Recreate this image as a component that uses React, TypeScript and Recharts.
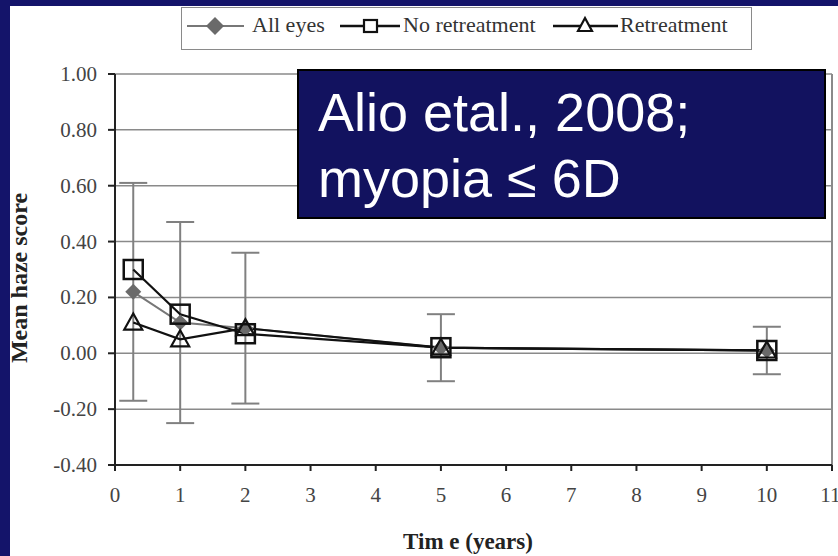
import { CartesianGrid, ErrorBar, Line, LineChart, ReferenceLine, XAxis, YAxis } from 'recharts'

// follow-up time points, years after surgery
const years = [0.28, 1, 2, 5, 10]

// mean haze score per group
const allEyes = [0.22, 0.11, 0.09, 0.02, 0.01]
const allEyesSd = [0.39, 0.36, 0.27, 0.12, 0.085]
const noRetreatment = [0.3, 0.14, 0.07, 0.02, 0.01]
const retreatment = [0.11, 0.05, 0.09, 0.02, 0.01]

const xTicks = [0, 1, 2, 3, 4, 5, 6, 7, 8, 9, 10, 11]
const yTicks = [-0.4, -0.2, 0, 0.2, 0.4, 0.6, 0.8, 1.0]

const legendItems = ['All eyes', 'No retreatment', 'Retreatment']

const NAVY = '#14146a'
const SERIF = '"Liberation Serif", "Times New Roman", serif'

const rows = years.map((t, i) => ({
  t,
  all: allEyes[i],
  sd: allEyesSd[i],
  none: noRetreatment[i],
  re: retreatment[i]
}))

type DotProps = { cx?: number; cy?: number; index?: number }

type TickProps = {
  x?: number
  y?: number
  payload?: { value: number }
  textAnchor?: string
}

function DiamondDot({ cx = 0, cy = 0 }: DotProps) {
  const r = 8
  return (
    <path
      d={`M${cx},${cy - r}L${cx + r},${cy}L${cx},${cy + r}L${cx - r},${cy}Z`}
      fill="#6a6a6a"
    />
  )
}

function SquareDot({ cx = 0, cy = 0 }: DotProps) {
  return (
    <rect
      x={cx - 9.5}
      y={cy - 9.5}
      width={19}
      height={19}
      fill="none"
      stroke="#111"
      strokeWidth={2.5}
    />
  )
}

function TriangleDot({ cx = 0, cy = 0 }: DotProps) {
  return (
    <path
      d={`M${cx},${cy - 9}L${cx + 9},${cy + 7}L${cx - 9},${cy + 7}Z`}
      fill="none"
      stroke="#111"
      strokeWidth={2.2}
    />
  )
}

function XTick({ x = 0, y = 0, payload }: TickProps) {
  return (
    <text
      x={x}
      y={y}
      dy={15}
      textAnchor="middle"
      fontFamily={SERIF}
      fontSize={21}
      fill="#444"
    >
      {payload?.value}
    </text>
  )
}

function YTick({ x = 0, y = 0, payload }: TickProps) {
  return (
    <text
      x={x}
      y={y}
      dy={7}
      textAnchor="end"
      fontFamily={SERIF}
      fontSize={21}
      fill="#444"
    >
      {payload ? payload.value.toFixed(2) : ''}
    </text>
  )
}

function LegendBox() {
  const text = {
    position: 'absolute' as const,
    top: 4,
    fontFamily: SERIF,
    fontSize: 22,
    color: '#333',
    whiteSpace: 'nowrap' as const
  }
  return (
    <div
      style={{
        position: 'absolute',
        left: 181,
        top: 7,
        width: 571,
        height: 43,
        boxSizing: 'border-box',
        border: '1.5px solid #8a8a8a',
        background: '#fff'
      }}
    >
      <svg width={571} height={43} style={{ position: 'absolute', left: 0, top: 0 }}>
        <line x1={5} x2={62} y1={18} y2={18} stroke="#777" strokeWidth={2} />
        <path d="M33,9L42,18L33,27L24,18Z" fill="#6a6a6a" />
        <line x1={158} x2={218} y1={18} y2={18} stroke="#111" strokeWidth={2.5} />
        <rect x={182} y={12} width={13} height={12} fill="#fff" stroke="#111" strokeWidth={2.2} />
        <line x1={371} x2={436} y1={18} y2={18} stroke="#111" strokeWidth={2.5} />
        <path d="M403,10L410,23L396,23Z" fill="#fff" stroke="#111" strokeWidth={2.2} />
      </svg>
      <span style={{ ...text, left: 70 }}>{legendItems[0]}</span>
      <span style={{ ...text, left: 221 }}>{legendItems[1]}</span>
      <span style={{ ...text, left: 438 }}>{legendItems[2]}</span>
    </div>
  )
}

export default function App() {
  return (
    <div
      style={{
        position: 'absolute',
        left: 0,
        top: 0,
        width: 838,
        height: 556,
        background: NAVY,
        overflow: 'hidden',
        fontFamily: SERIF
      }}
    >
      <div
        style={{
          position: 'absolute',
          left: 10,
          top: 6,
          width: 828,
          height: 550,
          background: '#fff'
        }}
      />

      <div style={{ position: 'absolute', left: 0, top: 0 }}>
        <LineChart
          width={838}
          height={556}
          data={rows}
          margin={{ top: 74, right: 6, bottom: 31, left: 55 }}
        >
          <CartesianGrid vertical={false} stroke="#8a8a8a" strokeWidth={1.5} />
          <ReferenceLine x={11} stroke="#8a8a8a" strokeWidth={2} />

          <XAxis
            type="number"
            dataKey="t"
            domain={[0, 11]}
            ticks={xTicks}
            height={60}
            tickSize={6}
            tickMargin={16}
            stroke="#222"
            strokeWidth={2}
            tick={<XTick />}
            label={{
              content: () => (
                <text
                  x={468}
                  y={549}
                  textAnchor="middle"
                  fontFamily={SERIF}
                  fontWeight="bold"
                  fontSize={23}
                  fill="#222"
                >
                  Tim e (years)
                </text>
              )
            }}
          />
          <YAxis
            type="number"
            domain={[-0.4, 1]}
            ticks={yTicks}
            width={60}
            tickSize={7}
            tickMargin={11}
            stroke="#222"
            strokeWidth={2}
            tick={<YTick />}
            label={{
              content: () => (
                <text
                  x={0}
                  y={0}
                  transform="translate(27,278) rotate(-90)"
                  textAnchor="middle"
                  fontFamily={SERIF}
                  fontWeight="bold"
                  fontSize={24}
                  fill="#222"
                >
                  Mean haze score
                </text>
              )
            }}
          />

          <Line
            dataKey="all"
            type="linear"
            stroke="#777"
            strokeWidth={2}
            isAnimationActive={false}
            activeDot={false}
            dot={(p: DotProps) => <DiamondDot key={`a-${p.index}`} cx={p.cx} cy={p.cy} />}
          >
            <ErrorBar
              dataKey="sd"
              direction="y"
              width={14}
              stroke="#808080"
              strokeWidth={2}
              isAnimationActive={false}
            />
          </Line>
          <Line
            dataKey="none"
            type="linear"
            stroke="#111"
            strokeWidth={2.2}
            isAnimationActive={false}
            activeDot={false}
            dot={(p: DotProps) => <SquareDot key={`n-${p.index}`} cx={p.cx} cy={p.cy} />}
          />
          <Line
            dataKey="re"
            type="linear"
            stroke="#111"
            strokeWidth={2.2}
            isAnimationActive={false}
            activeDot={false}
            dot={(p: DotProps) => <TriangleDot key={`r-${p.index}`} cx={p.cx} cy={p.cy} />}
          />
        </LineChart>
      </div>

      <LegendBox />

      <div
        style={{
          position: 'absolute',
          left: 297,
          top: 69,
          width: 529,
          height: 150,
          boxSizing: 'border-box',
          border: '2px solid #000',
          background: '#12125f',
          color: '#fff',
          fontFamily: '"Liberation Sans", Arial, sans-serif',
          fontSize: 54,
          lineHeight: '66px',
          padding: '8px 0 0 19px',
          whiteSpace: 'nowrap'
        }}
      >
        <div>Alio etal., 2008;</div>
        <div>myopia ≤ 6D</div>
      </div>
    </div>
  )
}
